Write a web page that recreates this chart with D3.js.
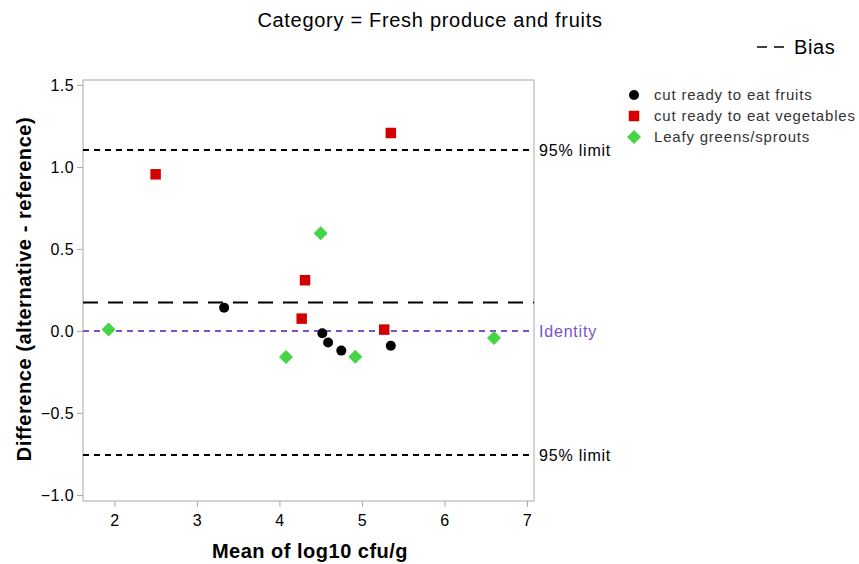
<!DOCTYPE html>
<html>
<head>
<meta charset="utf-8">
<script src="https://cdn.jsdelivr.net/npm/d3@7"></script>
<style>
  body { margin: 0; background: #fff; }
  svg { display: block; font-family: "Liberation Sans", Arial, sans-serif; }
</style>
</head>
<body>
<svg id="chart" width="859" height="564"></svg>
<script>
// Bland–Altman style difference plot, fresh produce category
const fruitsMean = [3.33, 4.52, 4.59, 4.75, 5.35];
const fruitsDiff = [0.142, -0.014, -0.071, -0.120, -0.090];
const vegMean = [2.50, 5.35, 4.31, 4.27, 5.27];
const vegDiff = [0.955, 1.207, 0.309, 0.075, 0.008];
const leafyMean = [1.93, 4.50, 4.08, 4.92, 6.60];
const leafyDiff = [0.008, 0.596, -0.159, -0.157, -0.043];

const bias = 0.173;
const upperLimit = 1.103;
const lowerLimit = -0.757;

const xTicks = [2, 3, 4, 5, 6, 7];
const yTicks = [-1.0, -0.5, 0.0, 0.5, 1.0, 1.5];
const groupNames = ["cut ready to eat fruits", "cut ready to eat vegetables", "Leafy greens/sprouts"];

const svg = d3.select("#chart");
const plot = { left: 83, right: 534, top: 80, bottom: 501 };

const x = d3.scaleLinear().domain([1.62, 7.085]).range([plot.left, plot.right]);
const y = d3.scaleLinear().domain([-1.037, 1.53]).range([plot.bottom, plot.top]);

// Frame
svg.append("rect")
  .attr("x", plot.left).attr("y", plot.top)
  .attr("width", plot.right - plot.left).attr("height", plot.bottom - plot.top)
  .attr("fill", "none").attr("stroke", "#a8a8a8").attr("stroke-width", 1);

// Axes
const xAxis = svg.append("g")
  .attr("transform", `translate(0,${plot.bottom})`)
  .call(d3.axisBottom(x).tickValues(xTicks).tickFormat(d3.format("d")).tickSize(6).tickPadding(8));
const yAxis = svg.append("g")
  .attr("transform", `translate(${plot.left},0)`)
  .call(d3.axisLeft(y).tickValues(yTicks).tickFormat(d3.format(".1f")).tickSize(6).tickPadding(3));
[xAxis, yAxis].forEach(g => {
  g.select(".domain").remove();
  g.selectAll(".tick line").attr("stroke", "#a8a8a8");
  g.selectAll(".tick text").attr("fill", "#000").style("font-size", "16px")
    .style("letter-spacing", "0.4px")
    .style("font-family", '"Liberation Sans", Arial, sans-serif');
});
yAxis.selectAll(".tick text").attr("dy", "0.35em");

// Reference lines
function hline(v, color, dash, width) {
  svg.append("line")
    .attr("x1", plot.left).attr("x2", plot.right)
    .attr("y1", y(v)).attr("y2", y(v))
    .attr("stroke", color).attr("stroke-width", width)
    .attr("stroke-dasharray", dash);
}
hline(upperLimit, "#000", "6,5", 2);
hline(lowerLimit, "#000", "6,5", 2);
hline(bias, "#000", "15,10", 2);
hline(0, "#7b52c9", "6,5", 2);

// Right-side line labels
const rightLabels = [
  { v: upperLimit, text: "95% limit", color: "#000" },
  { v: lowerLimit, text: "95% limit", color: "#000" },
  { v: 0, text: "Identity", color: "#7b52c9" }
];
svg.selectAll("text.rlabel").data(rightLabels).enter().append("text")
  .attr("class", "rlabel")
  .attr("x", plot.right + 5).attr("y", d => y(d.v) + 6)
  .attr("fill", d => d.color)
  .style("font-size", "16px")
  .style("letter-spacing", "0.8px")
  .text(d => d.text);

// Marker shapes
const circleSym = d3.symbol().type(d3.symbolCircle).size(Math.PI * 25);
const squareSym = d3.symbol().type(d3.symbolSquare).size(110);
const diamondPath = "M0,-7L7,0L0,7L-7,0Z";

const groups = [
  { mean: fruitsMean, diff: fruitsDiff, path: circleSym(), color: "#000000" },
  { mean: vegMean, diff: vegDiff, path: squareSym(), color: "#d40000" },
  { mean: leafyMean, diff: leafyDiff, path: diamondPath, color: "#44d444" }
];

groups.forEach(g => {
  svg.append("g").selectAll("path")
    .data(g.mean.map((m, i) => [m, g.diff[i]]))
    .enter().append("path")
    .attr("d", g.path)
    .attr("fill", g.color)
    .attr("transform", d => `translate(${x(d[0])},${y(d[1])})`);
});

// Title
svg.append("text")
  .attr("x", 430).attr("y", 27)
  .attr("text-anchor", "middle")
  .style("font-size", "20px")
  .style("letter-spacing", "0.7px")
  .text("Category = Fresh produce and fruits");

// Bias legend
svg.append("line")
  .attr("x1", 757).attr("x2", 785).attr("y1", 47).attr("y2", 47)
  .attr("stroke", "#000").attr("stroke-width", 1.5).attr("stroke-dasharray", "10,7");
svg.append("text")
  .attr("x", 794).attr("y", 54)
  .style("font-size", "20px")
  .style("letter-spacing", "0.6px")
  .text("Bias");

// Group legend
const legend = svg.append("g");
groups.forEach((g, i) => {
  const ly = 95 + i * 21;
  legend.append("path")
    .attr("d", g.path)
    .attr("fill", g.color)
    .attr("transform", `translate(634,${ly})`);
  legend.append("text")
    .attr("x", 654).attr("y", ly + 5)
    .attr("fill", "#333")
    .style("font-size", "15px")
    .style("letter-spacing", "0.8px")
    .text(groupNames[i]);
});

// Axis titles
svg.append("text")
  .attr("x", 310).attr("y", 558)
  .attr("text-anchor", "middle")
  .style("font-size", "20px").style("font-weight", "bold")
  .style("letter-spacing", "0.5px")
  .text("Mean of log10 cfu/g");
svg.append("text")
  .attr("transform", "translate(31,289) rotate(-90)")
  .attr("text-anchor", "middle")
  .style("font-size", "20px").style("font-weight", "bold")
  .style("letter-spacing", "0.55px")
  .text("Difference (alternative - reference)");
</script>
</body>
</html>
